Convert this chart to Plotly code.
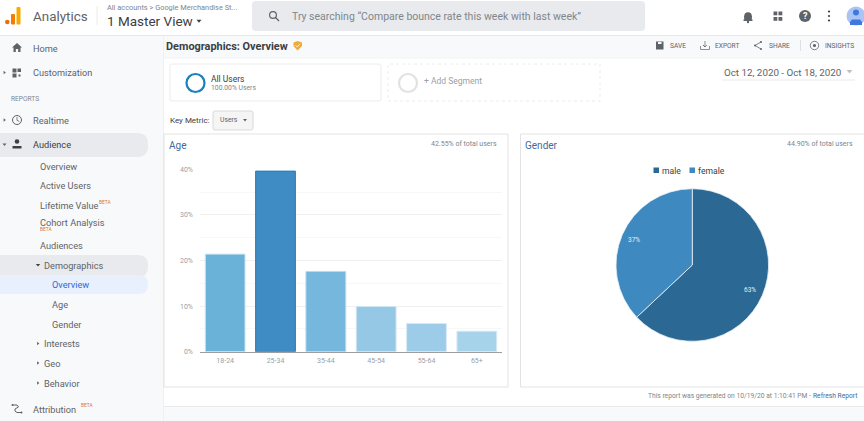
import plotly.graph_objects as go

# ---- data ----
age_groups = ["18-24", "25-34", "35-44", "45-54", "55-64", "65+"]
age_share = [21.4, 39.6, 17.6, 9.9, 6.2, 4.5]
age_colors = ["#6bb2d8", "#3f8bc3", "#76b7dd", "#95c8e5", "#9ccce8", "#a7d3ea"]
age_edges = ["#cfe6f3", "#1f7fbd", "#b5d9ee", "#cfe6f3", "#d6eaf5", "#d6eaf5"]
age_ticks = [0, 10, 20, 30, 40]
genders = ["male", "female"]
gender_share = [63, 37]
gender_colors = ["#2b6893", "#3e89c0"]

W, H = 864, 421
FONT = "Roboto"
shapes, notes = [], []
px = lambda x: x / W
py = lambda y: 1 - y / H


def rect(x0, y0, x1, y1, fill="rgba(0,0,0,0)", line=None, lw=1, dash=None, layer="below"):
    shapes.append(dict(type="rect", xref="paper", yref="paper", x0=px(x0), x1=px(x1), y0=py(y1), y1=py(y0),
                       fillcolor=fill, layer=layer,
                       line=dict(color=line or "rgba(0,0,0,0)", width=lw if line else 0, dash=dash or "solid")))


def rrect(x0, y0, x1, y1, r, fill, line=None, lw=1):
    p = lambda x, y: f"{px(x):.5f},{py(y):.5f}"
    d = (f"M{p(x0 + r, y0)} L{p(x1 - r, y0)} Q{p(x1, y0)} {p(x1, y0 + r)} L{p(x1, y1 - r)} Q{p(x1, y1)} {p(x1 - r, y1)} "
         f"L{p(x0 + r, y1)} Q{p(x0, y1)} {p(x0, y1 - r)} L{p(x0, y0 + r)} Q{p(x0, y0)} {p(x0 + r, y0)} Z")
    shapes.append(dict(type="path", xref="paper", yref="paper", path=d, fillcolor=fill, layer="below",
                       line=dict(color=line or "rgba(0,0,0,0)", width=lw if line else 0)))


def circ(cx, cy, r, fill="rgba(0,0,0,0)", line=None, lw=1):
    shapes.append(dict(type="circle", xref="paper", yref="paper", x0=px(cx - r), x1=px(cx + r),
                       y0=py(cy + r), y1=py(cy - r), fillcolor=fill, layer="below",
                       line=dict(color=line or "rgba(0,0,0,0)", width=lw if line else 0)))


def poly(pts, fill="rgba(0,0,0,0)", line=None, lw=1, close=True):
    d = "M" + " L".join(f"{px(x):.5f},{py(y):.5f}" for x, y in pts) + (" Z" if close else "")
    shapes.append(dict(type="path", xref="paper", yref="paper", path=d, fillcolor=fill, layer="below",
                       line=dict(color=line or "rgba(0,0,0,0)", width=lw if line else 0)))


def hline(x0, x1, y, color, lw=1):
    shapes.append(dict(type="line", xref="paper", yref="paper", x0=px(x0), x1=px(x1), y0=py(y), y1=py(y),
                       layer="below", line=dict(color=color, width=lw)))


def vline(x, y0, y1, color, lw=1):
    shapes.append(dict(type="line", xref="paper", yref="paper", x0=px(x), x1=px(x), y0=py(y0), y1=py(y1),
                       layer="below", line=dict(color=color, width=lw)))


def text(x, y, s, size=9, color="#5f6368", anchor="left", bold=False):
    notes.append(dict(xref="paper", yref="paper", x=px(x), y=py(y), text=f"<b>{s}</b>" if bold else s,
                      showarrow=False, xanchor=anchor, yanchor="middle", borderpad=0, borderwidth=0,
                      font=dict(family=FONT, size=size, color=color)))


def caret(x, y, s=2.5, color="#5f6368"):
    poly([(x - s, y - s / 2), (x + s, y - s / 2), (x, y + s / 2 + .4)], fill=color)


def rcaret(x, y, s=2, color="#5f6368"):
    poly([(x - s / 2, y - s), (x + s / 2 + .4, y), (x - s / 2, y + s)], fill=color)


# ---- page chrome ----
SIDE = "#f8f9fb"
rect(0, 36, 163, 421, fill=SIDE)
rect(163, 36, 864, 58, fill="#f8f9fa")
rect(163, 406, 864, 421, fill="#f8f9fa")
hline(164, 864, 406.5, "#e8eaed")
hline(0, 864, 35.5, "#e6e7e9")
hline(164, 864, 58, "#f1f3f4")
vline(163.5, 36, 421, "#eef0f2")

# top bar
circ(7.3, 22, 2.3, fill="#e8710a")
rrect(11, 14, 15, 24.6, 1, "#f57c00")
rrect(16.5, 7, 20.5, 24.6, 1, "#f9ab00")
text(33, 16.5, "Analytics", 13.4, "#5f6368")
vline(97, 6, 25, "#ececee")
text(107, 7.5, "All accounts &gt; Google Merchandise St...", 7.4, "#80868b")
text(107, 21, "1 Master View", 13.5, "#3c4043")
caret(199, 21, 2.5, "#3c4043")
rrect(252, 1, 645, 31, 4, "#e8eaed")
circ(273, 15, 3.4, line="#5f6368", lw=1.2)
poly([(275.5, 17.5), (279, 21)], line="#5f6368", lw=1.3, close=False)
text(292, 16, "Try searching “Compare bounce rate this week with last week”", 10.5, "#80868b")

# top right icons
circ(748, 16, 3.8, fill="#5f6368")
rect(744.2, 16, 751.8, 20, fill="#5f6368")
rect(743.5, 19.5, 752.5, 21, fill="#5f6368")
circ(748, 22, 1.2, fill="#5f6368")
for gx, gy in [(773.5, 11.5), (778.5, 11.5), (773.5, 17), (778.5, 17)]:
    rect(gx, gy, gx + 3.8, gy + 3.8, fill="#5f6368")
circ(805, 16, 6, fill="#5f6368")
text(805, 16.3, "<b>?</b>", 9, "#ffffff", "center")
for dy in (11.5, 16, 20.5):
    circ(829, dy, 1.1, fill="#3c4043")
circ(856, 16, 9.5, fill="#a9c4f5")
circ(856, 12.5, 3, fill="#3f78de")
poly([(850, 25), (850, 22), (852, 19.5), (860, 19.5), (862, 22), (862, 25)], fill="#3f78de")

# sidebar pills
rrect(-12, 133, 148, 157, 11, "#e8eaed")
rrect(-12, 255, 148, 277, 10, "#e8eaed")
rrect(-12, 275, 148, 294, 9, "#e8f0fe")

# sidebar icons
poly([(17, 43), (22, 47.5), (20.5, 47.5), (20.5, 52), (18.2, 52), (18.2, 49), (15.8, 49), (15.8, 52), (13.5, 52),
      (13.5, 47.5), (12, 47.5)], fill="#5f6368")
for gx, gy, s in [(12.5, 68.5, 4), (17.5, 68.5, 3.5), (12.5, 73.5, 4)]:
    rect(gx, gy, gx + s, gy + s, fill="#5f6368")
rect(18.5, 74.5, 20.5, 76.5, fill="#5f6368")
rcaret(4.5, 72.5, 1.8)
rcaret(4.5, 120, 1.8)
circ(17, 120, 4.5, line="#5f6368", lw=1)
poly([(17, 117), (17, 120.3), (19.4, 121.5)], line="#5f6368", lw=.8, close=False)
caret(4.5, 144.5, 2)
circ(17, 141.5, 2.3, fill="#3c4043")
rect(12.5, 146, 21.5, 148.5, fill="#3c4043")
caret(38, 265, 2.2, "#3c4043")
for iy in (343.5, 363, 383):
    rcaret(38, iy, 1.8)
poly([(13, 405), (17, 405), (18.5, 407), (15, 409), (15, 411), (17, 412.5), (21, 412.5)],
     line="#5f6368", lw=1, close=False)
circ(12.5, 405, 1, fill="#5f6368")
circ(21.5, 412.5, 1, fill="#5f6368")

# sidebar labels
for sx, sy, label, col in [
    (33, 48, "Home", "#5f6368"), (33, 72.5, "Customization", "#5f6368"), (33, 120, "Realtime", "#5f6368"),
    (33, 144.5, "Audience", "#3c4043"), (40, 166.5, "Overview", "#5f6368"), (40, 186, "Active Users", "#5f6368"),
    (40, 205.5, "Lifetime Value", "#5f6368"), (40, 222, "Cohort Analysis", "#5f6368"), (40, 245, "Audiences", "#5f6368"),
    (44, 265, "Demographics", "#5f6368"), (52, 284.5, "Overview", "#3367d6"), (52, 304.5, "Age", "#5f6368"),
    (52, 324, "Gender", "#5f6368"), (44, 343.5, "Interests", "#5f6368"), (44, 363, "Geo", "#5f6368"),
    (44, 383, "Behavior", "#5f6368"), (33, 409, "Attribution", "#5f6368"),
]:
    text(sx, sy, label, 9.2, col)
text(11, 98.5, "REPORTS", 6.6, "#80868b")
for bx, by in [(99, 202), (40, 229), (81, 405)]:
    text(bx, by, "BETA", 4.8, "#d9733a")

# sub header
text(166, 46, "Demographics: Overview", 10.9, "#3c4043", bold=True)
poly([(297.5, 41), (302, 42.5), (302, 46), (297.5, 50.5), (293.5, 46), (293.5, 42.5)], fill="#f2a93b")
poly([(295.5, 45.3), (297.2, 47), (300, 43.8)], line="#ffffff", lw=.8, close=False)
rect(656, 41.5, 663.5, 49.5, fill="#5f6368")
rect(658, 42, 661.5, 44, fill="#f8f9fa")
poly([(705, 41), (705, 47), (703, 45), (705, 47), (707, 45)], line="#5f6368", lw=.7, close=False)
poly([(700.5, 46), (700.5, 49.5), (709.5, 49.5), (709.5, 46)], line="#5f6368", lw=.7, close=False)
poly([(761, 42), (755, 45.5), (761, 49)], line="#5f6368", lw=.8, close=False)
circ(761, 42, 1, fill="#5f6368")
circ(755, 45.5, 1, fill="#5f6368")
circ(761, 49, 1, fill="#5f6368")
vline(800.5, 40, 51, "#e0e0e0")
circ(814.5, 45.5, 4.2, line="#5f6368", lw=.8)
circ(814.5, 45.5, 1.6, fill="#5f6368")
for bx, lab in [(670, "SAVE"), (715, "EXPORT"), (769, "SHARE"), (825, "INSIGHTS")]:
    text(bx, 45.5, lab, 6.6, "#5f6368")

# segments and date
rrect(170, 64, 381, 101, 2, "#ffffff", "#ececec")
circ(195.5, 83, 9, line="#1a7fbf", lw=2.2)
text(211, 78.5, "All Users", 8.5, "#3c4043")
text(211, 87.5, "100.00% Users", 6.8, "#80868b")
rect(388, 64, 600, 101, line="#ececec", dash="dot")
circ(408, 83, 9, line="#e2e2e2", lw=2.2)
text(424, 81, "+ Add Segment", 8.5, "#9aa0a6")
text(724, 72, "Oct 12, 2020 - Oct 18, 2020", 9.8, "#5f6368")
caret(849.5, 71.5, 3, "#bdc1c6")
hline(722, 855, 80, "#e8eaed")
text(170, 120.5, "Key Metric:", 8, "#3c4043")
rrect(213, 111, 253, 130, 2, "#f5f5f5", "#d9d9d9")
text(219.5, 120.5, "Users", 6.8, "#5f6368")
caret(245, 120, 2, "#5f6368")

# panels
rect(164, 134, 508, 387, fill="#ffffff", line="#e3e3e3")
rect(520.5, 134, 864.5, 387, fill="#ffffff", line="#e3e3e3")
text(169, 145, "Age", 10, "#3f6a9c")
text(497, 143.5, "42.55% of total users", 7, "#80868b", "right")
text(525, 145, "Gender", 10, "#3f6a9c")
text(853, 143.5, "44.90% of total users", 7, "#80868b", "right")
text(811, 396, "This report was generated on 10/19/20 at 1:10:41 PM -", 6.7, "#80868b", "right")
text(813, 396, "Refresh Report", 6.7, "#3f6a9c")

# ---- charts ----
fig = go.Figure()
fig.add_trace(go.Bar(x=age_groups, y=age_share, marker=dict(color=age_colors, line=dict(color=age_edges, width=1)),
                     width=0.79, showlegend=False, hoverinfo="skip"))
fig.add_trace(go.Pie(labels=genders, values=gender_share, sort=False, direction="clockwise", rotation=0,
                     marker=dict(colors=gender_colors, line=dict(color="#e8f1f7", width=0.8)),
                     textinfo="none", hoverinfo="skip", showlegend=False,
                     domain=dict(x=[px(616), px(768.6)], y=[py(341.3), py(188.7)])))

# pie percentage labels
for (lx, ly), v in zip([(750, 290), (633.5, 239.5)], gender_share):
    text(lx, ly, f"{v}%", 6.5, "#e6eef5", "center")

# pie legend
for (sx, tx), name, col in zip([(653.5, 662), (689.5, 698)], genders, gender_colors):
    rect(sx, 167.5, sx + 5.5, 173, fill=col)
    text(tx, 170.5, name, 8.6, "#3c4043")

fig.update_layout(
    width=W, height=H, autosize=False, margin=dict(l=0, r=0, t=0, b=0, pad=0, autoexpand=False),
    paper_bgcolor="#ffffff", plot_bgcolor="rgba(0,0,0,0)",
    font=dict(family=FONT), bargap=0.2, shapes=shapes, annotations=notes, showlegend=False,
    xaxis=dict(domain=[px(200), px(502)], showgrid=False, showline=True, linecolor="#9e9e9e", linewidth=1,
               ticks="", tickfont=dict(size=7, color="#9aa0a6", family=FONT), fixedrange=True, zeroline=False,
               ticklabelstandoff=2),
    yaxis=dict(domain=[py(351.7), py(169.3)], range=[0, 40], tickvals=age_ticks, ticktext=[f"{t}%" for t in age_ticks],
               showgrid=True, gridcolor="#f0f0f0", gridwidth=1, zeroline=False, showline=False, ticks="",
               tickfont=dict(size=7, color="#9aa0a6", family=FONT), fixedrange=True, ticklabelstandoff=6,
               minor=dict(tickvals=[5, 15, 25, 35], showgrid=True, gridcolor="#f7f7f7", gridwidth=1)),
)
fig.write_html("out.html", config=dict(displayModeBar=False),
               post_script="document.body.style.margin='0';document.body.style.overflow='hidden';")
